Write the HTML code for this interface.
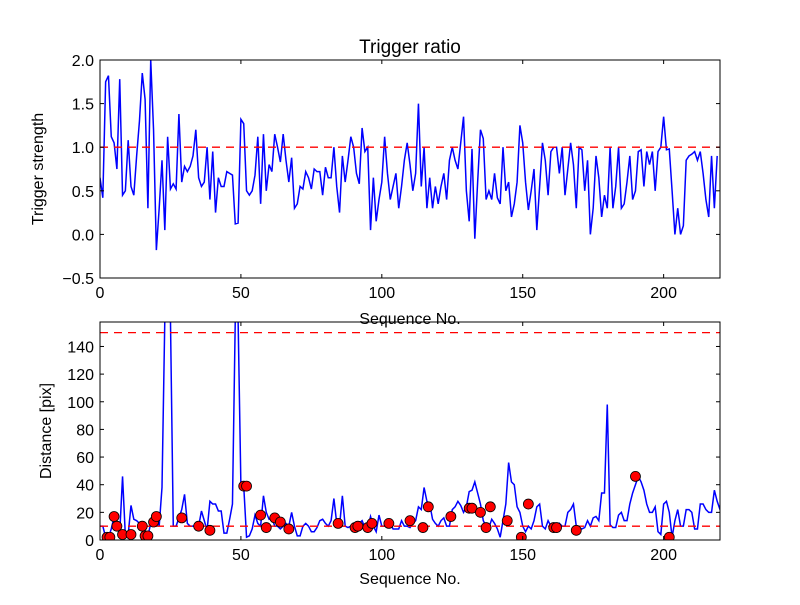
<!DOCTYPE html>
<html><head><meta charset="utf-8"><style>
body{margin:0;background:#fff}
svg text{font-family:"Liberation Sans","DejaVu Sans",sans-serif;fill:#000}
</style></head><body>
<svg id="c" width="800" height="600" viewBox="0 0 800 600">
<rect width="800" height="600" fill="#fff"/>
<defs>
<clipPath id="cp1"><rect x="100" y="60" width="620" height="218"/></clipPath>
<clipPath id="cp2"><rect x="100" y="322" width="620" height="218"/></clipPath>
</defs>
<g id="g1"></g>
<g id="g2"></g>
</svg>
<script>
const strength=[0.65,0.42,1.75,1.82,1.12,1.05,0.75,1.78,0.45,0.5,1.08,0.55,0.45,0.9,1.3,1.85,1.55,0.3,2.0,1.2,-0.18,0.3,0.85,0.05,1.12,0.52,0.58,0.52,1.38,0.6,0.78,0.72,0.78,0.9,1.2,0.65,0.55,0.6,1.0,0.4,0.95,0.25,0.65,0.55,0.55,0.72,0.7,0.68,0.12,0.13,1.32,1.27,0.5,0.45,0.5,0.68,1.12,0.35,1.15,0.5,0.8,0.72,1.15,1.0,0.83,1.15,0.85,0.6,0.88,0.3,0.35,0.55,0.52,0.72,0.65,0.52,0.75,0.72,0.72,0.45,0.77,0.65,0.65,1.0,0.55,0.25,0.9,0.6,0.85,1.12,1.0,0.7,0.58,1.22,0.95,1.0,0.05,0.65,0.15,0.4,0.6,1.12,0.7,0.4,0.55,0.7,0.3,0.55,0.85,1.05,0.8,0.5,0.7,1.5,0.55,1.0,0.3,0.65,0.3,0.55,0.35,0.55,0.7,0.4,0.85,1.0,0.85,0.75,1.05,1.35,0.5,0.15,0.98,-0.05,0.6,1.2,1.1,0.4,0.5,0.4,0.7,0.42,0.35,1.0,0.5,0.6,0.2,0.35,0.6,1.25,1.05,0.6,0.28,0.5,0.75,0.05,0.55,1.05,0.85,0.45,0.95,1.0,1.0,0.7,1.0,0.45,0.75,1.05,0.8,0.3,1.0,0.97,0.5,0.85,0.0,0.3,0.9,0.65,0.2,0.45,0.3,1.0,0.3,0.55,1.0,0.3,0.35,0.6,0.9,0.4,0.5,0.95,0.97,0.55,0.95,0.8,0.95,0.5,0.95,1.0,1.35,0.97,0.98,0.5,0.0,0.3,0.0,0.1,0.85,0.9,0.92,0.95,0.85,0.95,0.7,0.4,0.2,0.9,0.3,0.9];
const distance=[10,10,2,2,8,17,10,5,46,3,4,25,15,14,12,10,3,3,12,15,17,10,38,160,160,160,10,10,16,22,33,12,10,10,10,10,21,14,7,28,26,26,21,21,5,5,15,26,160,160,39,39,2,3,8,18,12,10,32,20,15,16,10,10,8,10,12,10,20,10,3,3,10,12,10,6,6,9,14,15,12,10,14,30,12,10,32,10,9,10,10,9,12,14,9,8,17,10,6,18,10,10,12,12,8,8,8,14,10,10,9,12,14,24,22,38,28,26,15,12,10,14,16,10,10,22,24,28,25,20,24,35,36,42,34,26,14,10,9,15,12,8,2,14,26,56,42,40,24,20,10,6,10,8,14,24,26,10,8,14,10,8,8,12,10,10,20,22,26,10,9,8,9,14,10,16,17,14,34,34,98,11,9,9,18,20,14,14,26,34,40,46,42,36,26,20,20,24,6,4,26,28,20,2,14,22,10,10,22,22,20,8,8,26,26,22,20,20,36,28,22];
const markerSeq=[2.5,3.5,5,6,8,11,15,16,17,19,20,29,35,39,51,52,57,59,62,64,67,84.5,90.5,91.5,95,96.5,102.5,110,114.6,116.5,124.5,131,132,135,137,138.5,144.5,149.5,152,161,162,169,190,202];
const markerDist=[2,2,17,10,4,4,10,3,3,13,17,16,10,7,39,39,18,9,16,13,8,12,9,10,9,12,12,14,9,24,17,23,23,20,9,24,14,2,26,9,9,7,46,2];
const xTicks=[0,50,100,150,200];
const yTicks1=[-0.5,0.0,0.5,1.0,1.5,2.0];
const yTicks2=[0,20,40,60,80,100,120,140];
const thr1=[1.0];
const thr2=[10,150];

const NS="http://www.w3.org/2000/svg";
function mk(tag,attrs,parent){const e=document.createElementNS(NS,tag);for(const k in attrs)e.setAttribute(k,attrs[k]);parent.appendChild(e);return e;}
const X0=100,X1=720,XMAX=220;
const sx=v=>X0+v/XMAX*(X1-X0);
const p1={top:60,bot:278,min:-0.5,max:2.0};
const p2={top:322,bot:540,min:0,max:157.7};
const sy=(p,v)=>p.bot-(v-p.min)/(p.max-p.min)*(p.bot-p.top);

function axes(g,p,yt,fmt){
  for(const t of xTicks){const x=sx(t);
    const a=mk('line',{x1:x,x2:x,y1:p.bot,y2:p.bot-4,stroke:'#000'},g);
    const b=mk('line',{x1:x,x2:x,y1:p.top,y2:p.top+4,stroke:'#000'},g);
    const tx=mk('text',{x:x,y:p.bot+20,'text-anchor':'middle','font-size':'16'},g);tx.textContent=t;}
  for(const t of yt){const y=sy(p,t);
    const a=mk('line',{x1:X0,x2:X0+4,y1:y,y2:y,stroke:'#000'},g);
    const b=mk('line',{x1:X1,x2:X1-4,y1:y,y2:y,stroke:'#000'},g);
    const tx=mk('text',{x:X0-6,y:y+6,'text-anchor':'end','font-size':'16'},g);tx.textContent=fmt(t);}
  const r=mk('rect',{x:X0,y:p.top,width:X1-X0,height:p.bot-p.top,fill:'none',stroke:'#000','stroke-width':1},g);
  
}
function fmt1(t){return (t<0?'\u2212':'')+Math.abs(t).toFixed(1);}

const g1=document.getElementById('g1');
const pl1=mk('polyline',{points:strength.map((v,i)=>sx(i)+','+sy(p1,v)).join(' '),fill:'none',stroke:'#0000ff','stroke-width':1.5,'clip-path':'url(#cp1)'},g1);

for(const t of thr1){const l=mk('line',{x1:X0,x2:X1,y1:sy(p1,t),y2:sy(p1,t),stroke:'#ff0000','stroke-width':1.3,'stroke-dasharray':'8,6'},g1);}
axes(g1,p1,yTicks1,fmt1);
let t=mk('text',{x:410,y:53,'text-anchor':'middle','font-size':'19'},g1);t.textContent='Trigger ratio';
t=mk('text',{x:410,y:324,'text-anchor':'middle','font-size':'16'},g1);t.textContent='Sequence No.';
t=mk('text',{x:0,y:0,'text-anchor':'middle','font-size':'16',transform:'translate(43,169) rotate(-90)'},g1);t.textContent='Trigger strength';

const g2=document.getElementById('g2');
const pl2=mk('polyline',{points:distance.map((v,i)=>sx(i)+','+sy(p2,v)).join(' '),fill:'none',stroke:'#0000ff','stroke-width':1.5,'clip-path':'url(#cp2)'},g2);

for(const t of thr2){const l=mk('line',{x1:X0,x2:X1,y1:sy(p2,t),y2:sy(p2,t),stroke:'#ff0000','stroke-width':1.3,'stroke-dasharray':'8,6'},g2);}
markerSeq.forEach((s,i)=>{const c=mk('circle',{cx:sx(s),cy:sy(p2,markerDist[i]),r:5,fill:'#ff0000',stroke:'#000','stroke-width':0.8,'clip-path':'url(#cp2)'},g2);
  
  });
axes(g2,p2,yTicks2,v=>String(v));
t=mk('text',{x:410,y:584,'text-anchor':'middle','font-size':'16'},g2);t.textContent='Sequence No.';
t=mk('text',{x:0,y:0,'text-anchor':'middle','font-size':'16',transform:'translate(51,431) rotate(-90)'},g2);t.textContent='Distance [pix]';
</script>
</body></html>
